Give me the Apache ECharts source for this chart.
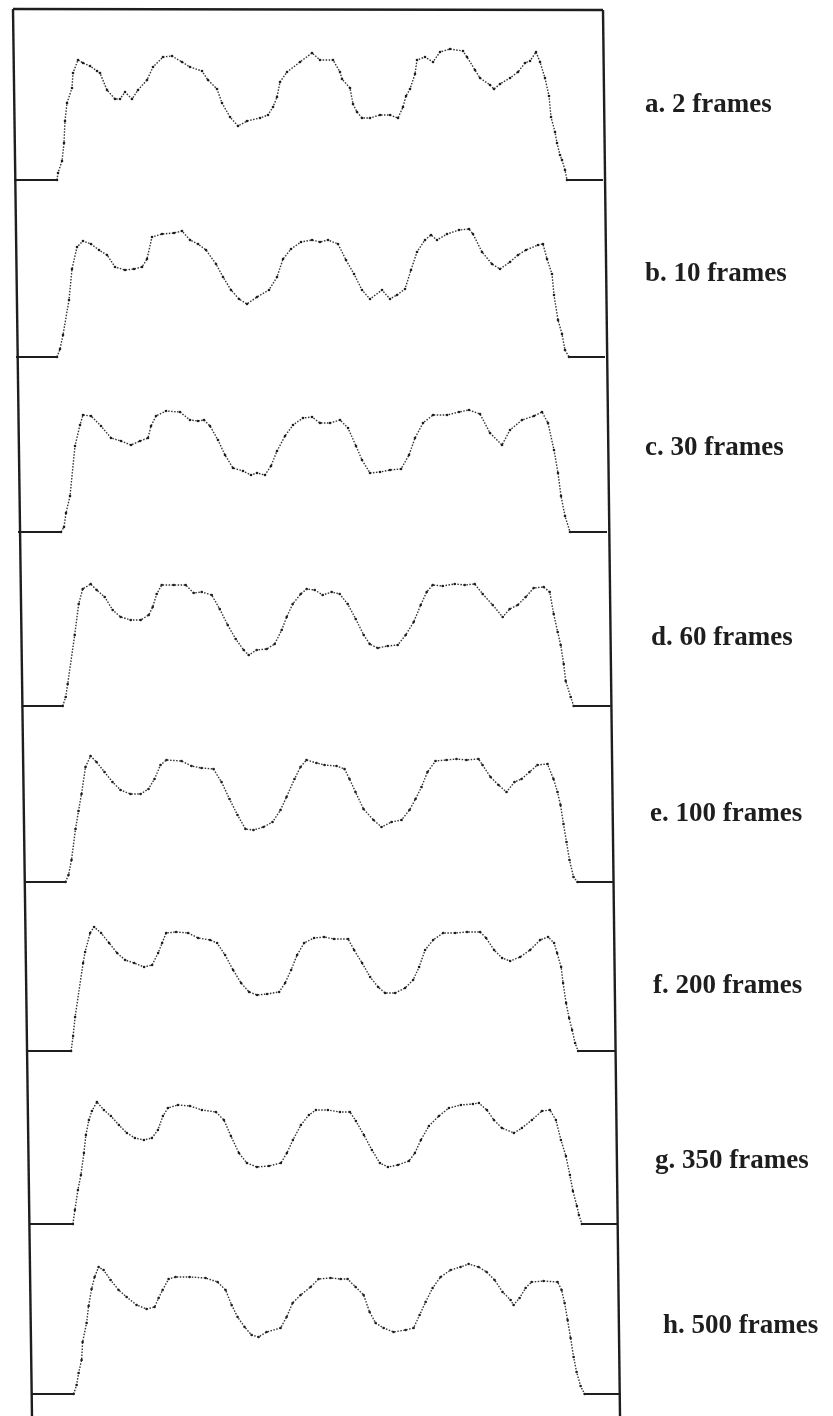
<!DOCTYPE html>
<html>
<head>
<meta charset="utf-8">
<script src="https://cdn.jsdelivr.net/npm/echarts@6/dist/echarts.min.js"></script>
<style>
html, body { margin: 0; padding: 0; background: #fff; }
#chart { width: 833px; height: 1416px; }
</style>
</head>
<body>
<div id="chart"></div>
<script>
// each trace: [sample position, signal level above baseline]
var traceA = [[0,0],[43,0],[44,7],[48,19],[50,37],[51,59],[53,77],[58,92],[59,107],[64,120],[69,117],[76,114],[83,109],[86,107],[93,90],[101,81],[106,81],[111,88],[118,81],[124,90],[133,100],[139,113],[149,123],[158,124],[168,118],[176,113],[188,109],[194,100],[203,91],[208,77],[216,63],[224,54],[233,59],[246,62],[254,65],[259,73],[263,83],[266,98],[273,108],[286,118],[298,127],[306,120],[319,120],[326,108],[328,101],[336,92],[339,76],[343,68],[348,62],[356,62],[366,65],[376,65],[384,62],[389,73],[392,84],[396,91],[401,106],[403,120],[411,123],[419,118],[426,128],[436,131],[449,129],[453,123],[461,110],[466,102],[476,95],[480,91],[486,96],[496,102],[504,108],[511,117],[516,119],[522,128],[526,118],[531,102],[535,84],[537,63],[541,48],[543,37],[546,25],[548,20],[551,10],[553,0],[589,0]];
var traceB = [[0,0],[41,0],[44,8],[47,22],[53,57],[56,88],[61,110],[67,116],[75,113],[83,107],[91,102],[99,90],[109,87],[118,88],[126,90],[131,98],[136,120],[146,123],[158,124],[166,126],[174,117],[182,113],[190,107],[200,93],[207,80],[215,67],[223,58],[231,53],[241,60],[253,67],[261,80],[267,98],[275,108],[285,115],[296,117],[304,115],[312,117],[322,113],[330,97],[338,83],[346,67],[354,58],[366,67],[374,58],[381,62],[389,68],[395,87],[401,105],[409,117],[415,122],[421,117],[431,123],[443,127],[453,128],[457,123],[466,105],[476,93],[484,88],[494,95],[502,102],[510,107],[522,112],[527,113],[531,98],[536,83],[538,62],[542,37],[546,23],[549,7],[553,0],[589,0]];
var traceC = [[0,0],[43,0],[46,5],[48,19],[52,36],[57,86],[62,107],[65,117],[73,116],[83,106],[93,94],[103,91],[113,87],[122,91],[130,94],[133,106],[138,116],[148,121],[162,120],[172,112],[180,111],[186,112],[192,106],[200,92],[207,77],[215,64],[225,61],[233,57],[239,59],[247,57],[253,66],[259,81],[267,96],[275,107],[285,114],[294,115],[302,109],[312,109],[322,112],[330,104],[338,86],[344,72],[352,59],[362,60],[372,62],[383,63],[391,77],[397,94],[405,109],[415,117],[429,117],[441,120],[451,122],[462,118],[472,99],[484,87],[492,102],[504,112],[516,116],[524,120],[530,109],[536,82],[540,59],[543,36],[547,16],[552,0],[589,0]];
var traceD = [[0,0],[41,0],[44,9],[46,22],[53,71],[57,102],[61,117],[69,122],[75,116],[83,109],[91,96],[99,89],[109,86],[119,86],[127,91],[131,99],[135,112],[140,121],[152,121],[164,121],[172,113],[180,114],[190,111],[198,97],[206,81],[214,67],[222,56],[227,51],[235,56],[245,57],[253,62],[260,76],[265,89],[271,102],[279,112],[285,117],[293,116],[301,111],[310,114],[318,112],[326,102],[334,87],[342,71],[348,62],[356,58],[366,60],[376,61],[384,71],[392,84],[399,101],[405,114],[411,121],[421,120],[433,122],[443,121],[453,122],[461,112],[471,101],[481,89],[488,97],[496,101],[504,109],[512,118],[522,119],[528,114],[532,92],[536,74],[539,61],[542,42],[544,25],[549,9],[552,0],[589,0]];
var traceE = [[0,0],[41,0],[44,7],[47,22],[51,53],[54,71],[57,88],[61,115],[66,126],[72,120],[80,110],[88,100],[96,92],[106,88],[116,88],[124,93],[130,103],[136,117],[142,122],[157,121],[167,116],[177,114],[189,113],[197,100],[205,83],[213,67],[221,53],[229,52],[239,55],[248,60],[256,72],[262,85],[270,103],[276,115],[282,122],[292,119],[300,117],[312,116],[320,113],[325,103],[331,90],[339,73],[349,62],[357,55],[367,60],[377,62],[385,72],[391,83],[397,95],[403,110],[411,121],[422,122],[432,123],[442,122],[454,123],[458,117],[466,105],[474,97],[482,90],[490,100],[497,103],[505,110],[513,117],[523,118],[529,103],[533,90],[536,77],[539,58],[542,40],[545,22],[549,5],[553,0],[589,0]];
var traceF = [[0,0],[45,0],[47,15],[49,34],[57,88],[59,99],[64,118],[68,124],[75,118],[83,108],[91,98],[99,91],[108,88],[118,84],[126,86],[132,98],[136,108],[140,118],[150,119],[162,118],[172,113],[184,111],[191,108],[199,96],[207,81],[215,68],[223,59],[231,56],[241,57],[253,59],[259,68],[265,81],[271,96],[278,108],[288,113],[298,114],[308,112],[322,112],[328,101],[336,88],[344,74],[352,64],[359,58],[369,58],[379,63],[387,71],[393,84],[399,101],[407,111],[417,118],[429,118],[441,119],[454,119],[460,113],[468,101],[476,93],[484,90],[494,94],[504,101],[514,111],[522,114],[528,108],[531,98],[535,84],[537,68],[540,48],[543,33],[546,21],[549,8],[552,0],[589,0]];
var traceG = [[0,0],[44,0],[46,14],[49,34],[52,49],[55,71],[57,89],[60,104],[63,113],[68,122],[75,114],[82,108],[90,99],[98,91],[106,86],[115,84],[123,86],[129,94],[134,108],[139,116],[149,119],[161,118],[173,114],[187,112],[195,104],[202,88],[210,71],[218,61],[228,57],[240,58],[252,61],[258,71],[264,84],[272,99],[280,109],[287,114],[299,114],[311,112],[321,112],[327,103],[335,89],[343,74],[351,61],[359,57],[369,59],[380,63],[386,71],[392,84],[400,98],[410,108],[420,116],[432,119],[444,120],[450,121],[458,114],[465,104],[473,96],[485,91],[493,96],[503,104],[513,113],[521,114],[527,104],[532,84],[537,68],[541,49],[544,33],[548,18],[550,9],[553,0],[589,0]];
var traceH = [[0,0],[42,0],[45,9],[47,21],[50,34],[51,52],[55,71],[57,88],[60,105],[63,117],[67,127],[72,124],[79,114],[87,104],[95,97],[105,89],[115,85],[123,87],[127,96],[131,104],[137,115],[144,117],[158,117],[174,116],[186,112],[194,104],[200,89],[206,77],[213,67],[220,59],[227,57],[235,62],[249,66],[255,77],[261,91],[269,99],[279,107],[287,115],[299,116],[309,115],[316,115],[324,107],[332,99],[338,82],[344,71],[352,66],[362,62],[374,64],[382,66],[388,79],[394,92],[401,106],[409,117],[419,124],[429,127],[437,130],[447,127],[455,122],[463,114],[471,102],[479,94],[482,89],[488,96],[494,106],[500,112],[512,113],[526,112],[530,104],[533,91],[536,74],[539,56],[542,37],[545,22],[549,8],[553,0],[589,0]];

var panelLabels = ['a. 2 frames', 'b. 10 frames', 'c. 30 frames', 'd. 60 frames',
    'e. 100 frames', 'f. 200 frames', 'g. 350 frames', 'h. 500 frames'];

var traces = [traceA, traceB, traceC, traceD, traceE, traceF, traceG, traceH];

// layout (the scan is slightly sheared, so each panel sits a bit further right)
var baselines = [180, 357, 532, 706, 882, 1051, 1224, 1394];
var frameLefts = [14, 16, 18, 21.7, 24.5, 26.1, 28.9, 31.6];
var labelPos = [[645, 105], [645, 274], [645, 448], [651, 638], [650, 814], [653, 986], [655, 1161], [663, 1326]];

var chart = echarts.init(document.getElementById('chart'));

var grids = [], xAxes = [], yAxes = [], series = [], graphics = [];
var ink = '#1e1e1e';

traces.forEach(function (trace, i) {
    grids.push({left: frameLefts[i], top: baselines[i] - 140, width: 589, height: 140});
    xAxes.push({type: 'value', gridIndex: i, min: 0, max: 589, show: false});
    yAxes.push({type: 'value', gridIndex: i, min: 0, max: 140, show: false});

    // sampled trace: dots on a dotted line
    series.push({
        type: 'line', xAxisIndex: i, yAxisIndex: i,
        data: trace.slice(1, trace.length - 1),
        clip: false, silent: true,
        symbol: 'circle', symbolSize: 2.6,
        itemStyle: {color: ink},
        lineStyle: {color: '#333', width: 1.4, type: [1.5, 1.5]}
    });
    // solid baseline before and after the pulse
    [trace.slice(0, 2), trace.slice(trace.length - 2)].forEach(function (seg) {
        series.push({
            type: 'line', xAxisIndex: i, yAxisIndex: i,
            data: seg, clip: false, silent: true, showSymbol: false,
            lineStyle: {color: ink, width: 2}
        });
    });

    graphics.push({
        type: 'text',
        x: labelPos[i][0], y: labelPos[i][1],
        style: {
            text: panelLabels[i],
            font: 'bold 27px "Liberation Serif", "DejaVu Serif", serif',
            fill: ink,
            textVerticalAlign: 'middle'
        }
    });
});

// outer frame
graphics.push(
    {type: 'line', shape: {x1: 13, y1: 9, x2: 603, y2: 10}, style: {stroke: ink, lineWidth: 2.4}},
    {type: 'line', shape: {x1: 13, y1: 9, x2: 32, y2: 1416}, style: {stroke: ink, lineWidth: 2.4}},
    {type: 'line', shape: {x1: 603, y1: 10, x2: 620, y2: 1416}, style: {stroke: ink, lineWidth: 2.4}}
);

chart.setOption({
    backgroundColor: '#fff',
    animation: false,
    grid: grids,
    xAxis: xAxes,
    yAxis: yAxes,
    series: series,
    graphic: graphics
});
</script>
</body>
</html>
